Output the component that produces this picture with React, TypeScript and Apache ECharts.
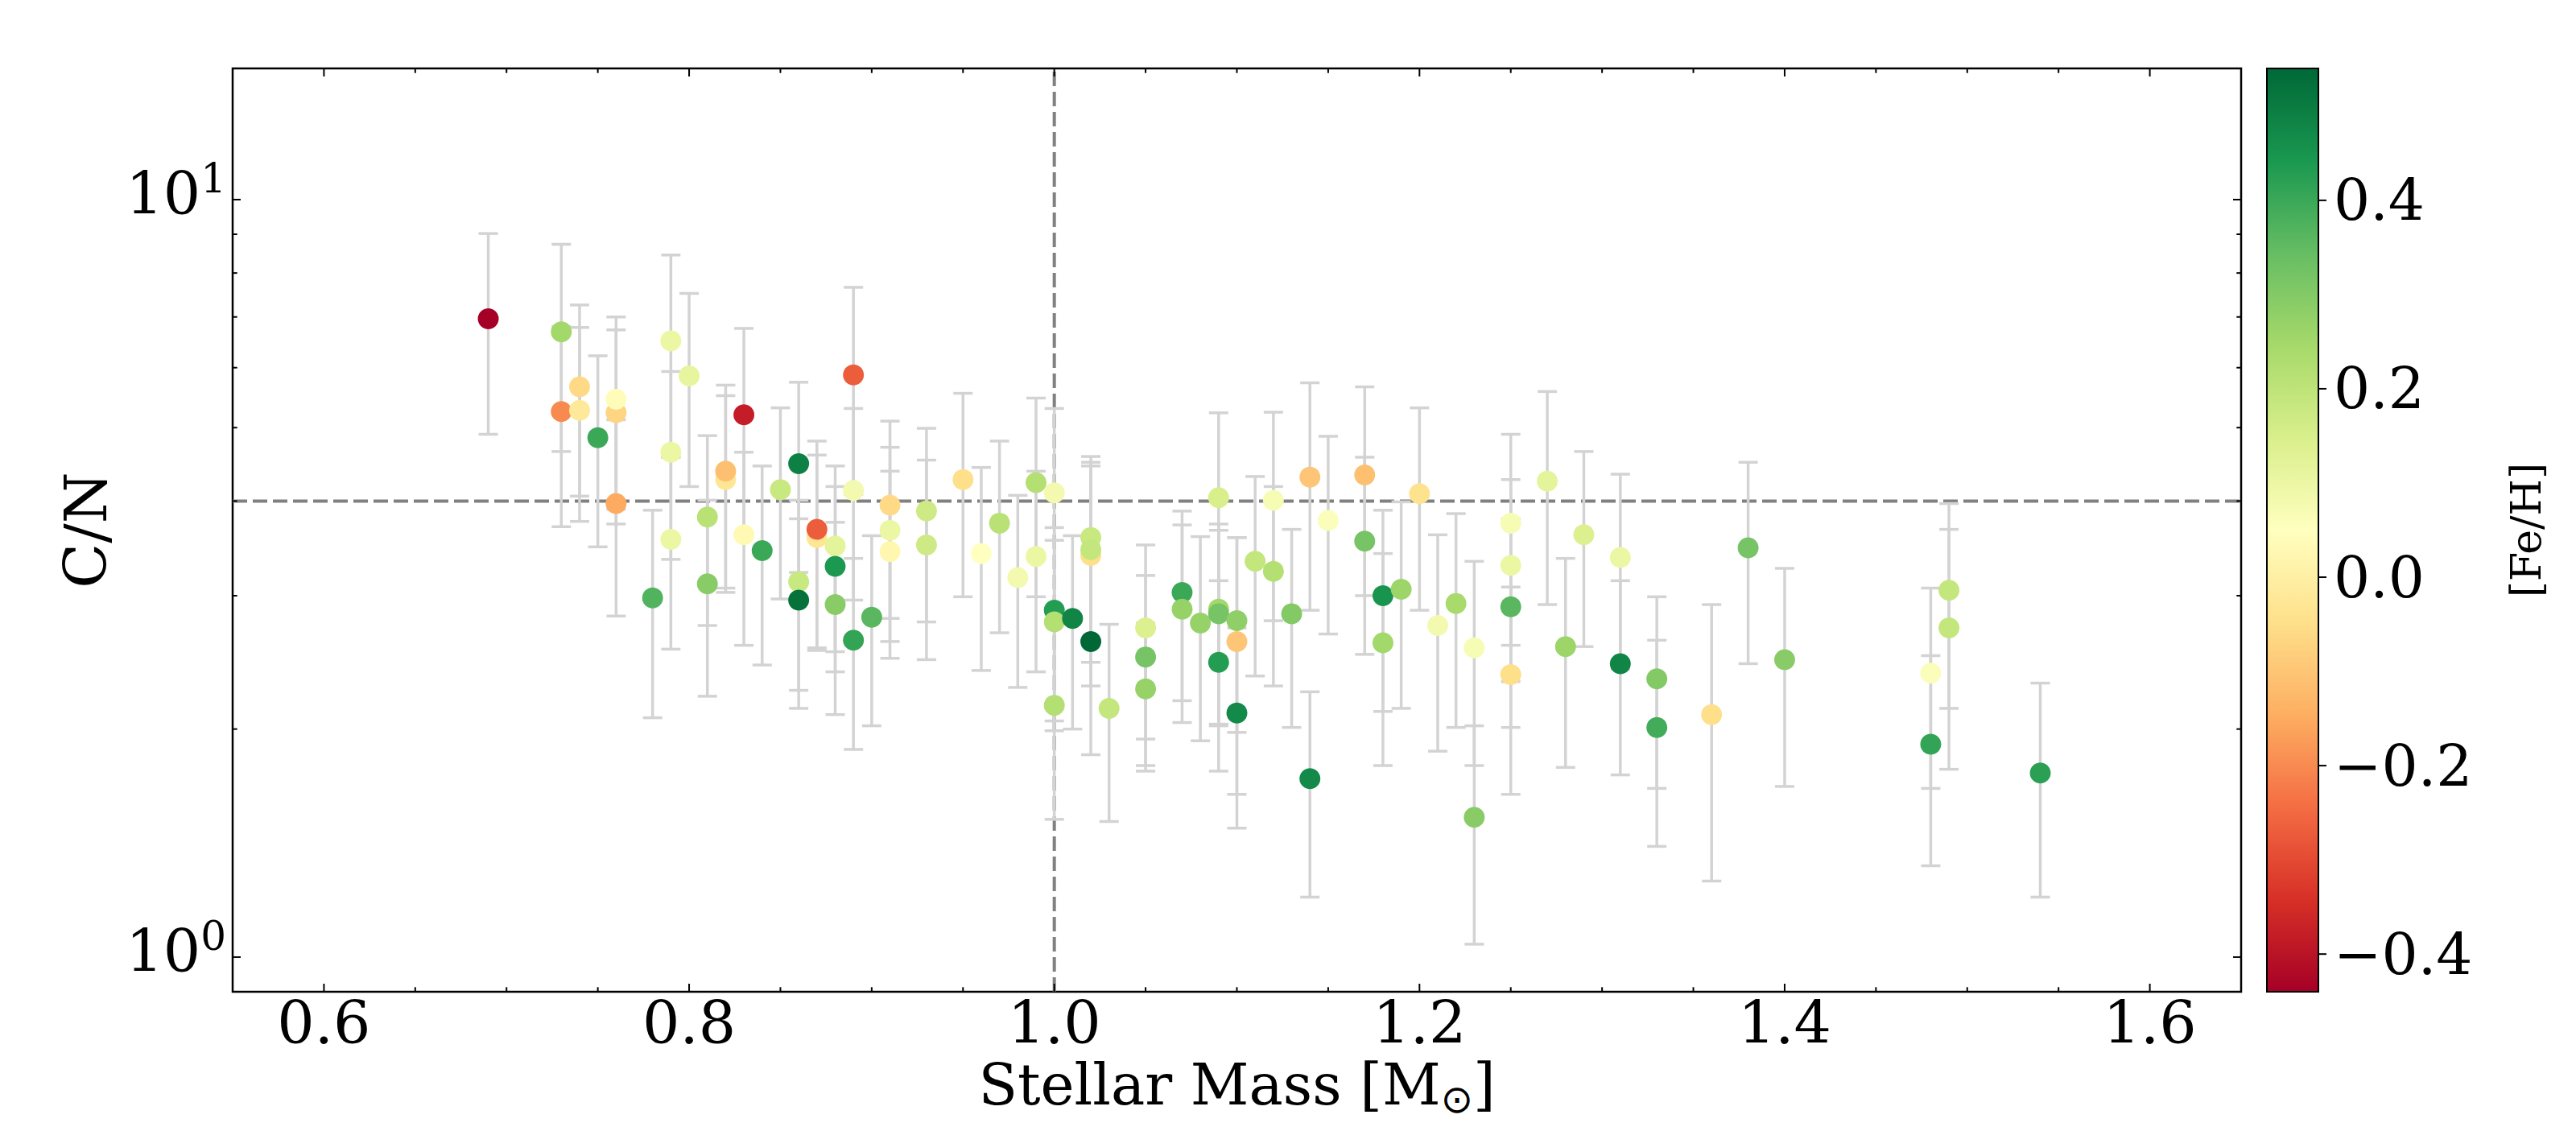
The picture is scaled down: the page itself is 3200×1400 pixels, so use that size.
import React, { useEffect, useRef } from 'react';
import * as echarts from 'echarts';

// ---- data ----
const massValues = [
  0.69, 0.73, 0.73, 0.74, 0.74, 0.75, 0.76, 0.76, 0.76, 0.78,
  0.79, 0.79, 0.79, 0.80, 0.81, 0.81, 0.82, 0.82, 0.83, 0.83,
  0.84, 0.85, 0.86, 0.86, 0.86, 0.87, 0.87, 0.88, 0.88, 0.88,
  0.89, 0.89, 0.89, 0.90, 0.91, 0.91, 0.91, 0.93, 0.93, 0.95,
  0.96, 0.97, 0.98, 0.99, 0.99, 1.00, 1.00, 1.00, 1.00, 1.01,
  1.02, 1.02, 1.02, 1.02, 1.03, 1.05, 1.05, 1.05, 1.07, 1.07,
  1.08, 1.09, 1.09, 1.09, 1.09, 1.10, 1.10, 1.10, 1.11, 1.12,
  1.12, 1.13, 1.14, 1.14, 1.15, 1.17, 1.17, 1.18, 1.18, 1.19,
  1.20, 1.21, 1.22, 1.23, 1.23, 1.25, 1.25, 1.25, 1.25, 1.27,
  1.28, 1.29, 1.31, 1.31, 1.33, 1.33, 1.36, 1.38, 1.40, 1.48,
  1.48, 1.49, 1.49, 1.54,
];
const cnValues = [
  6.96, 5.25, 6.69, 5.66, 5.27, 4.85, 3.97, 5.23, 5.45, 2.98,
  6.51, 4.64, 3.56, 5.85, 3.81, 3.11, 4.27, 4.38, 5.20, 3.61,
  3.44, 4.14, 4.48, 3.13, 2.96, 3.58, 3.67, 3.49, 3.28, 2.92,
  5.87, 4.13, 2.62, 2.81, 3.95, 3.66, 3.43, 3.88, 3.50, 4.27,
  3.41, 3.74, 3.17, 4.23, 3.38, 4.10, 2.87, 2.77, 2.15, 2.80,
  3.39, 3.58, 3.45, 2.61, 2.13, 2.72, 2.49, 2.26, 3.03, 2.88,
  2.76, 4.04, 2.88, 2.84, 2.45, 2.78, 2.61, 2.10, 3.33, 4.01,
  3.23, 2.84, 4.30, 1.72, 3.77, 4.33, 3.54, 3.00, 2.60, 3.06,
  4.09, 2.74, 2.93, 2.56, 1.53, 3.74, 3.29, 2.90, 2.36, 4.25,
  2.57, 3.61, 3.37, 2.44, 2.33, 2.01, 2.09, 3.47, 2.47, 2.37,
  1.91, 3.05, 2.72, 1.75,
];
const cnErrors = [
  2.06, 1.55, 2.04, 1.60, 1.51, 1.37, 1.15, 1.50, 1.55, 0.91,
  1.94, 1.29, 1.01, 1.67, 1.07, 0.90, 1.24, 1.31, 1.56, 1.03,
  1.01, 1.17, 1.26, 0.88, 0.83, 1.02, 1.13, 0.96, 0.90, 0.83,
  1.79, 1.17, 0.74, 0.79, 1.15, 1.05, 0.95, 1.11, 1.03, 1.28,
  1.02, 1.06, 0.90, 1.24, 1.00, 1.20, 0.82, 0.78, 0.63, 0.80,
  1.11, 1.00, 1.00, 0.76, 0.62, 0.78, 0.70, 0.50, 0.85, 0.84,
  0.83, 1.19, 0.85, 0.82, 0.69, 0.80, 0.97, 0.62, 0.98, 1.23,
  0.95, 0.83, 1.43, 0.52, 1.10, 1.33, 1.03, 0.89, 0.81, 0.93,
  1.22, 0.87, 0.92, 0.77, 0.49, 1.16, 0.98, 0.89, 0.72, 1.33,
  0.79, 1.04, 0.97, 0.70, 0.66, 0.61, 0.83, 1.03, 0.79, 0.70,
  0.59, 0.92, 0.95, 0.55,
];
const fehValues = [
  -0.44, -0.20, 0.25, -0.06, -0.02, 0.40, -0.15, -0.07, 0.04, 0.37,
  0.10, 0.10, 0.10, 0.11, 0.21, 0.29, -0.03, -0.11, -0.38, 0.03,
  0.40, 0.18, 0.49, 0.18, 0.52, -0.03, -0.27, 0.12, 0.44, 0.29,
  -0.27, 0.08, 0.41, 0.36, -0.06, 0.10, 0.02, 0.17, 0.17, -0.05,
  0.05, 0.21, 0.08, 0.22, 0.10, 0.08, 0.43, 0.22, 0.22, 0.48,
  -0.05, 0.18, 0.19, 0.54, 0.19, 0.14, 0.32, 0.27, 0.40, 0.27,
  0.27, 0.15, 0.25, 0.32, 0.43, 0.28, -0.10, 0.47, 0.19, 0.07,
  0.22, 0.30, -0.10, 0.47, 0.06, -0.11, 0.32, 0.45, 0.25, 0.26,
  -0.04, 0.08, 0.24, 0.07, 0.29, 0.07, 0.10, 0.36, -0.05, 0.12,
  0.26, 0.14, 0.10, 0.48, 0.30, 0.39, -0.05, 0.32, 0.29, 0.06,
  0.41, 0.19, 0.19, 0.42,
];

const xMajorTicks = [0.6, 0.8, 1.0, 1.2, 1.4, 1.6];
const xMinorTicks = [0.65, 0.7, 0.75, 0.85, 0.9, 0.95, 1.05, 1.1, 1.15, 1.25, 1.3, 1.35, 1.45, 1.5, 1.55];
const yMajorTicks = [1, 10];
const yMinorTicks = [2, 3, 4, 5, 6, 7, 8, 9];
const cbTicks = [-0.4, -0.2, 0.0, 0.2, 0.4];
const refMass = [1.0];
const refCN = [4.0];

const X_MIN = 0.55;
const X_MAX = 1.65;
const Y_MIN = 0.9;
const Y_MAX = 14.9;
const FEH_MIN = -0.44;
const FEH_MAX = 0.54;

const RDYLGN = [
  '#a50026', '#d73027', '#f46d43', '#fdae61', '#fee08b', '#ffffbf',
  '#d9ef8b', '#a6d96a', '#66bd63', '#1a9850', '#006837',
];

const FONT = 'DejaVu Serif';

function xTickSeries(values: number[], len: number) {
  return {
    type: 'custom',
    xAxisIndex: 0,
    yAxisIndex: 0,
    silent: true,
    z: 6,
    data: values.map((v) => [v, 1]),
    renderItem: (params: any, api: any) => {
      const cs = params.coordSys;
      const px = api.coord([api.value(0), 1])[0];
      const st = { stroke: '#000', lineWidth: 2 };
      return {
        type: 'group',
        children: [
          { type: 'line', shape: { x1: px, y1: cs.y + cs.height, x2: px, y2: cs.y + cs.height - len }, style: st },
          { type: 'line', shape: { x1: px, y1: cs.y, x2: px, y2: cs.y + len }, style: st },
        ],
      };
    },
  };
}

function yTickSeries(values: number[], len: number) {
  return {
    type: 'custom',
    xAxisIndex: 0,
    yAxisIndex: 0,
    silent: true,
    z: 6,
    data: values.map((v) => [1, v]),
    renderItem: (params: any, api: any) => {
      const cs = params.coordSys;
      const py = api.coord([1, api.value(1)])[1];
      const st = { stroke: '#000', lineWidth: 2 };
      return {
        type: 'group',
        children: [
          { type: 'line', shape: { x1: cs.x, y1: py, x2: cs.x + len, y2: py }, style: st },
          { type: 'line', shape: { x1: cs.x + cs.width - len, y1: py, x2: cs.x + cs.width, y2: py }, style: st },
        ],
      };
    },
  };
}

export default function App() {
  const ref = useRef<HTMLDivElement>(null);

  useEffect(() => {
    document.body.style.margin = '0';
    if (!ref.current) return;
    const chart = echarts.init(ref.current, null, { renderer: 'svg' });

    const scatterData = massValues.map((m, i) => [m, cnValues[i], fehValues[i]]);
    const errData = massValues.map((m, i) => [m, cnValues[i], cnErrors[i]]);

    const option: any = {
      animation: false,
      backgroundColor: '#ffffff',
      textStyle: { fontFamily: FONT, color: '#000' },
      grid: [
        {
          left: 289, top: 85, width: 2495, height: 1147,
          show: true, borderColor: '#000', borderWidth: 2.5, backgroundColor: 'transparent',
        },
        { left: 2816, top: 85, width: 64, height: 1147, show: false },
      ],
      xAxis: [
        {
          type: 'value', gridIndex: 0, min: X_MIN, max: X_MAX,
          name: '{a|Stellar Mass [M}{sub|\u2299}{a|]}',
          nameLocation: 'middle', nameGap: 86,
          nameTextStyle: {
            rich: {
              a: { fontFamily: FONT, fontSize: 71, lineHeight: 71, color: '#000', padding: [0, 0, 6, 0], verticalAlign: 'bottom' },
              sub: { fontFamily: 'DejaVu Sans', fontSize: 48, lineHeight: 48, color: '#000', verticalAlign: 'bottom' },
            },
          },
          axisLine: { show: false },
          axisTick: { show: false },
          splitLine: { show: false },
          axisLabel: {
            fontFamily: FONT, fontSize: 73, lineHeight: 73, color: '#000', margin: 2,
            showMinLabel: false, showMaxLabel: false,
            formatter: (v: number) => (Math.abs(v * 5 - Math.round(v * 5)) > 1e-6 ? '' : v.toFixed(1)),
          },
        },
        { type: 'value', gridIndex: 1, min: 0, max: 1, show: false },
      ],
      yAxis: [
        {
          type: 'log', logBase: 10, gridIndex: 0, min: Y_MIN, max: Y_MAX,
          name: 'C/N', nameLocation: 'middle', nameGap: 146, nameRotate: 90,
          nameTextStyle: { fontFamily: FONT, fontSize: 73, lineHeight: 73, color: '#000' },
          axisLine: { show: false },
          axisTick: { show: false },
          splitLine: { show: false },
          minorTick: { show: false },
          axisLabel: {
            margin: 8,
            formatter: (v: number) => {
              const l = Math.log10(v);
              const e = Math.round(l);
              if (Math.abs(l - e) > 1e-6) return '';
              return `{b|10}{s|${e}}`;
            },
            rich: {
              b: { fontFamily: FONT, fontSize: 73, lineHeight: 73, color: '#000', padding: [0, 0, 7, 0], verticalAlign: 'bottom' },
              s: { fontFamily: FONT, fontSize: 50, lineHeight: 50, color: '#000', padding: [0, 0, 37, 0], verticalAlign: 'bottom' },
            },
          },
        },
        {
          type: 'value', gridIndex: 1, min: FEH_MIN, max: FEH_MAX, position: 'right', splitNumber: 5,
          name: '[Fe/H]', nameLocation: 'middle', nameGap: 232, nameRotate: 90,
          nameTextStyle: { fontFamily: FONT, fontSize: 52, lineHeight: 52, color: '#000' },
          axisLine: { show: false },
          axisTick: { show: false },
          splitLine: { show: false },
          axisLabel: {
            fontFamily: FONT, fontSize: 71, lineHeight: 71, color: '#000', margin: 19,
            showMinLabel: false, showMaxLabel: false,
            formatter: (v: number) => {
              if (Math.abs(v * 5 - Math.round(v * 5)) > 1e-6) return '';
              const r = Math.round(v * 5) / 5;
              return (r < 0 ? '\u2212' : '') + Math.abs(r).toFixed(1);
            },
          },
        },
      ],
      visualMap: {
        type: 'continuous', show: false, min: FEH_MIN, max: FEH_MAX,
        dimension: 2, seriesIndex: 2, inRange: { color: RDYLGN },
      },
      series: [
        // reference lines
        {
          type: 'custom', xAxisIndex: 0, yAxisIndex: 0, silent: true, z: 1,
          data: refMass.map((v) => [v, 1]),
          renderItem: (params: any, api: any) => {
            const cs = params.coordSys;
            const px = api.coord([api.value(0), 1])[0];
            return {
              type: 'line',
              shape: { x1: px, y1: cs.y + cs.height, x2: px, y2: cs.y },
              style: { stroke: '#808080', lineWidth: 4, lineDash: [18, 7] },
            };
          },
        },
        // error bars
        {
          type: 'custom', xAxisIndex: 0, yAxisIndex: 0, silent: true, z: 2,
          data: errData,
          renderItem: (params: any, api: any) => {
            const x = api.value(0);
            const y = api.value(1);
            const e = api.value(2);
            const t = api.coord([x, y + e]);
            const b = api.coord([x, y - e]);
            const hw = 12;
            const st = { stroke: '#d3d3d3', lineWidth: 3.5 };
            return {
              type: 'group',
              children: [
                { type: 'line', shape: { x1: t[0], y1: t[1], x2: b[0], y2: b[1] }, style: st },
                { type: 'line', shape: { x1: t[0] - hw, y1: t[1], x2: t[0] + hw, y2: t[1] }, style: st },
                { type: 'line', shape: { x1: b[0] - hw, y1: b[1], x2: b[0] + hw, y2: b[1] }, style: st },
              ],
            };
          },
        },
        // points
        {
          type: 'scatter', xAxisIndex: 0, yAxisIndex: 0, z: 3,
          data: scatterData, symbol: 'circle', symbolSize: 26,
          itemStyle: { opacity: 1, borderWidth: 0 },
          silent: true,
        },
        // horizontal reference line
        {
          type: 'custom', xAxisIndex: 0, yAxisIndex: 0, silent: true, z: 1,
          data: refCN.map((v) => [1, v]),
          renderItem: (params: any, api: any) => {
            const cs = params.coordSys;
            const py = api.coord([1, api.value(1)])[1];
            return {
              type: 'line',
              shape: { x1: cs.x, y1: py, x2: cs.x + cs.width, y2: py },
              style: { stroke: '#808080', lineWidth: 4, lineDash: [18, 7] },
            };
          },
        },
        xTickSeries(xMajorTicks, 10),
        xTickSeries(xMinorTicks, 5.7),
        yTickSeries(yMajorTicks, 10),
        yTickSeries(yMinorTicks, 5.7),
        // colorbar
        {
          type: 'custom', xAxisIndex: 1, yAxisIndex: 1, silent: true, z: 2,
          data: [[0, FEH_MIN, 1, FEH_MAX]],
          encode: { x: [0, 2], y: [1, 3] },
          renderItem: (params: any, api: any) => {
            const p0 = api.coord([api.value(0), api.value(1)]);
            const p1 = api.coord([api.value(2), api.value(3)]);
            const grad = new echarts.graphic.LinearGradient(
              0, 1, 0, 0,
              RDYLGN.map((c, i) => ({ offset: i / (RDYLGN.length - 1), color: c })),
            );
            return {
              type: 'rect',
              shape: { x: p0[0], y: p1[1], width: p1[0] - p0[0], height: p0[1] - p1[1] },
              style: { fill: grad, stroke: '#000', lineWidth: 2 },
            };
          },
        },
        // colorbar ticks
        {
          type: 'custom', xAxisIndex: 1, yAxisIndex: 1, silent: true, z: 6,
          data: cbTicks.map((v) => [1, v]),
          renderItem: (params: any, api: any) => {
            const p = api.coord([1, api.value(1)]);
            return {
              type: 'line',
              shape: { x1: p[0], y1: p[1], x2: p[0] + 10, y2: p[1] },
              style: { stroke: '#000', lineWidth: 2 },
            };
          },
        },
      ],
    };

    chart.setOption(option);
    return () => chart.dispose();
  }, []);

  return <div ref={ref} style={{ width: 3200, height: 1400 }} />;
}
